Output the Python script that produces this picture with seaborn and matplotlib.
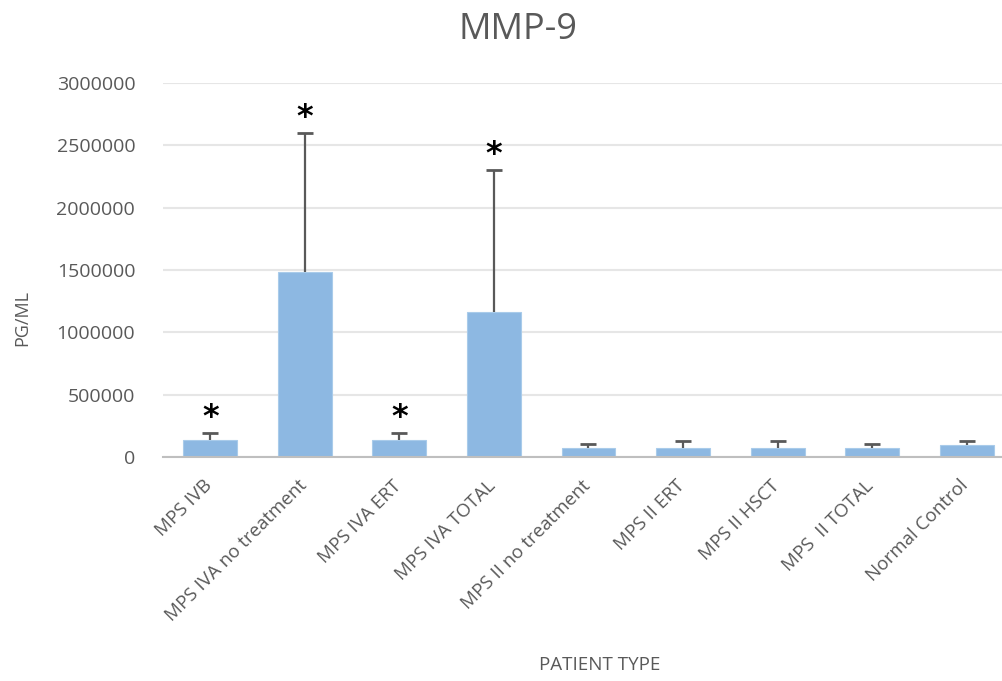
import matplotlib
matplotlib.use("Agg")
import matplotlib.pyplot as plt
import matplotlib.transforms as mtransforms
import seaborn as sns
import pandas as pd

categories = ["MPS IVB", "MPS IVA no treatment", "MPS IVA ERT", "MPS IVA TOTAL",
              "MPS II no treatment", "MPS II ERT", "MPS II HSCT", "MPS  II TOTAL",
              "Normal Control"]
values = [140000, 1480000, 140000, 1160000, 75000, 75000, 75000, 75000, 95000]
errors = [55000, 1120000, 55000, 1140000, 30000, 50000, 50000, 30000, 30000]
significant = [True, True, True, True, False, False, False, False, False]
yticks = [0, 500000, 1000000, 1500000, 2000000, 2500000, 3000000]

sns.set_theme(style="white")
plt.rcParams['font.family'] = ['Open Sans', 'DejaVu Sans']

text_color = "#595959"
fig = plt.figure(figsize=(10.03, 6.81), dpi=100)
W, H = 1003, 681
ax = fig.add_axes([163 / W, (H - 457) / H, 851 / W, 374 / H])

df = pd.DataFrame({"cat": categories, "val": values})
sns.barplot(data=df, x="cat", y="val", color="#8DB8E2", saturation=1,
            width=0.57, edgecolor="#A9CBEA", linewidth=0.8, ax=ax, zorder=2)

xs = list(range(len(categories)))
eb = ax.errorbar(xs, values, yerr=[[0] * len(values), errors], fmt="none",
                 ecolor=text_color, elinewidth=1.6, capsize=6, capthick=2, zorder=3)
eb[1][0].set_visible(False)  # hide lower caps

for x, v, e, s in zip(xs, values, errors, significant):
    if s:
        ax.annotate("*", xy=(x, v + e), xytext=(0, 0), textcoords="offset points",
                    ha="center", va="bottom", fontsize=23, fontweight="bold",
                    color="black", family="DejaVu Sans")

ax.set_ylim(0, 3000000)
ax.set_xlim(-0.5, len(categories) - 0.5)
ax.set_yticks(yticks)
ax.set_yticklabels([str(t) for t in yticks], color=text_color, fontsize=14)
ax.yaxis.grid(True, color="#e6e6e6", linewidth=1.5, zorder=0)
ax.set_axisbelow(True)
for side in ["top", "right", "left"]:
    ax.spines[side].set_visible(False)
ax.spines["bottom"].set_color("#bfbfbf")
ax.spines["bottom"].set_linewidth(1.5)
ax.tick_params(axis="y", length=0, pad=20)
ax.tick_params(axis="x", length=0, pad=0)

ax.set_xticks(xs)
ax.set_xticklabels(categories, rotation=45, ha="right", rotation_mode="anchor",
                   va="center", color=text_color, fontsize=13.5)
offset = mtransforms.ScaledTranslation(-1 / 100, -26 / 100, fig.dpi_scale_trans)
for lbl in ax.get_xticklabels():
    lbl.set_transform(lbl.get_transform() + offset)

ax.set_xlabel("")
ax.set_ylabel("")
fig.text(22 / W, 1 - 318 / H, "PG/ML", rotation=90, ha="center", va="center",
         color=text_color, fontsize=13)
fig.text(600 / W, 1 - 665 / H, "PATIENT TYPE", ha="center", va="center",
         color=text_color, fontsize=13.5)
fig.text(518 / W, 1 - 30 / H, "MMP-9", ha="center", va="center",
         color=text_color, fontsize=26)

fig.savefig("out.png", dpi=100, facecolor="white")
